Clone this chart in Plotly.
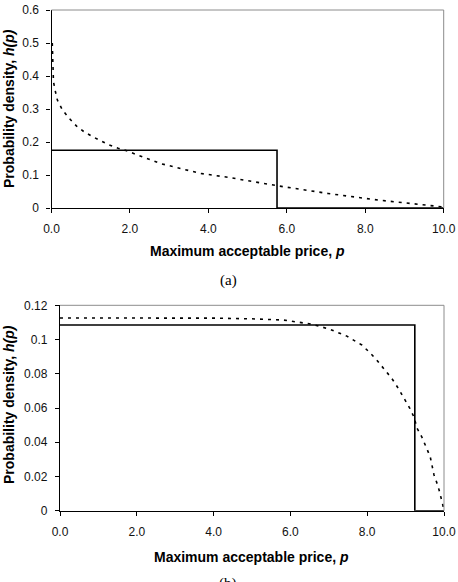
import plotly.graph_objects as go

W, H = 458, 582

# ---- Data: panel (a) ----
a_solid_p = [0.0, 5.75, 5.75, 10.0]
a_solid_h = [0.175, 0.175, 0.0, 0.0]
a_dash_p = [0.02, 0.03, 0.05, 0.09, 0.15, 0.28, 0.45, 0.64, 0.83, 1.05, 1.25, 1.47, 1.70, 1.90,
            2.77, 3.79, 4.50, 5.78, 7.05, 8.33, 9.93, 10.0]
a_dash_h = [0.50, 0.438, 0.383, 0.358, 0.327, 0.297, 0.272, 0.248, 0.231, 0.216, 0.204, 0.191, 0.181, 0.174,
            0.135, 0.105, 0.093, 0.067, 0.044, 0.024, 0.004, 0.0]
a_yticks = [0, 0.1, 0.2, 0.3, 0.4, 0.5, 0.6]
a_yticklabels = ["0", "0.1", "0.2", "0.3", "0.4", "0.5", "0.6"]

# ---- Data: panel (b) ----
b_solid_p = [0.0, 9.24, 9.24, 10.0]
b_solid_h = [0.1085, 0.1085, 0.0, 0.0]
b_dash_p = [0.0, 2.0, 4.0, 5.0, 5.82, 6.55, 7.03, 7.47, 7.86, 8.07, 8.25, 8.46, 8.64, 8.81, 8.96,
            9.11, 9.22, 9.30, 9.42, 9.52, 9.64, 9.74, 9.85, 9.96, 10.0]
b_dash_h = [0.1126, 0.1126, 0.1125, 0.1121, 0.1114, 0.109, 0.106, 0.102, 0.0968, 0.0923, 0.088, 0.0822,
            0.0773, 0.0715, 0.0657, 0.0598, 0.0546, 0.0481, 0.0432, 0.0378, 0.0316, 0.0209, 0.014,
            0.0043, 0.0]
b_yticks = [0, 0.02, 0.04, 0.06, 0.08, 0.1, 0.12]
b_yticklabels = ["0", "0.02", "0.04", "0.06", "0.08", "0.1", "0.12"]

x_ticks = [0, 2, 4, 6, 8, 10]
x_ticklabels = ["0.0", "2.0", "4.0", "6.0", "8.0", "10.0"]

x_title = "<b>Maximum acceptable price, <i>p</i></b>"
y_title = "<b>Probability density, <i>h(p)</i></b>"

fig = go.Figure()

line_solid = dict(color="black", width=1.6)
line_dash = dict(color="black", width=1.6, dash="3px,5px")

fig.add_trace(go.Scatter(x=a_dash_p, y=a_dash_h, mode="lines", line=line_dash,
                         xaxis="x", yaxis="y", cliponaxis=False, showlegend=False))
fig.add_trace(go.Scatter(x=a_solid_p, y=a_solid_h, mode="lines", line=line_solid,
                         xaxis="x", yaxis="y", cliponaxis=False, showlegend=False))
fig.add_trace(go.Scatter(x=b_dash_p, y=b_dash_h, mode="lines", line=line_dash,
                         xaxis="x2", yaxis="y2", cliponaxis=False, showlegend=False))
fig.add_trace(go.Scatter(x=b_solid_p, y=b_solid_h, mode="lines", line=line_solid,
                         xaxis="x2", yaxis="y2", cliponaxis=False, showlegend=False))

tickfont = dict(family="Liberation Sans, Arial, sans-serif", size=12, color="#111111")

def xax(domain, anchor):
    return dict(domain=domain, anchor=anchor, range=[0, 10], tickvals=x_ticks, ticktext=x_ticklabels,
                ticks="outside", ticklen=4, tickcolor="black", tickwidth=1, ticklabelstandoff=6,
                showline=True, linecolor="black", linewidth=1, showgrid=False, zeroline=False,
                tickfont=tickfont, fixedrange=True, automargin=False)

def yax(domain, anchor, rng, tv, tt):
    return dict(domain=domain, anchor=anchor, range=rng, tickvals=tv, ticktext=tt,
                ticks="outside", ticklen=4, tickcolor="black", tickwidth=1, ticklabelstandoff=5,
                showline=True, linecolor="black", linewidth=1.3, showgrid=False, zeroline=False,
                tickfont=tickfont, fixedrange=True, automargin=False)

top_y = [1 - 208 / H, 1 - 10 / H]
bot_y = [1 - 510.7 / H, 1 - 305.3 / H]

fig.update_layout(
    width=W, height=H,
    margin=dict(l=0, r=0, t=0, b=0, autoexpand=False),
    paper_bgcolor="white", plot_bgcolor="white",
    xaxis=xax([51.5 / W, 443.7 / W], "y"),
    yaxis=yax(top_y, "x", [0, 0.6], a_yticks, a_yticklabels),
    xaxis2=xax([60 / W, 444 / W], "y2"),
    yaxis2=yax(bot_y, "x2", [0, 0.12], b_yticks, b_yticklabels),
)

# gray frame (top and right)
for xr, yr in (("x domain", "y domain"), ("x2 domain", "y2 domain")):
    fig.add_shape(type="line", xref=xr, yref=yr, x0=0, x1=1, y0=1, y1=1,
                  line=dict(color="#8c8c8c", width=1))
    fig.add_shape(type="line", xref=xr, yref=yr, x0=1, x1=1, y0=0, y1=1,
                  line=dict(color="#8c8c8c", width=1))

title_font = dict(family="Liberation Sans, Arial, sans-serif", size=14, color="black")
label_font = dict(family="Liberation Serif, Times New Roman, serif", size=15, color="black")

annots = [
    dict(text=y_title, x=9 / W, y=1 - 109 / H, textangle=-90, font=title_font),
    dict(text=y_title, x=9 / W, y=1 - 405 / H, textangle=-90, font=title_font),
    dict(text=x_title, x=247.6 / W, y=1 - 251 / H, font=title_font),
    dict(text=x_title, x=251 / W, y=1 - 556.7 / H, font=title_font),
    dict(text="(a)", x=228 / W, y=1 - 280 / H, font=label_font),
    dict(text="(b)", x=228 / W, y=1 - 583 / H, font=label_font),
]
for a in annots:
    fig.add_annotation(xref="paper", yref="paper", showarrow=False,
                       xanchor="center", yanchor="middle", **a)

fig.write_html("out.html")
